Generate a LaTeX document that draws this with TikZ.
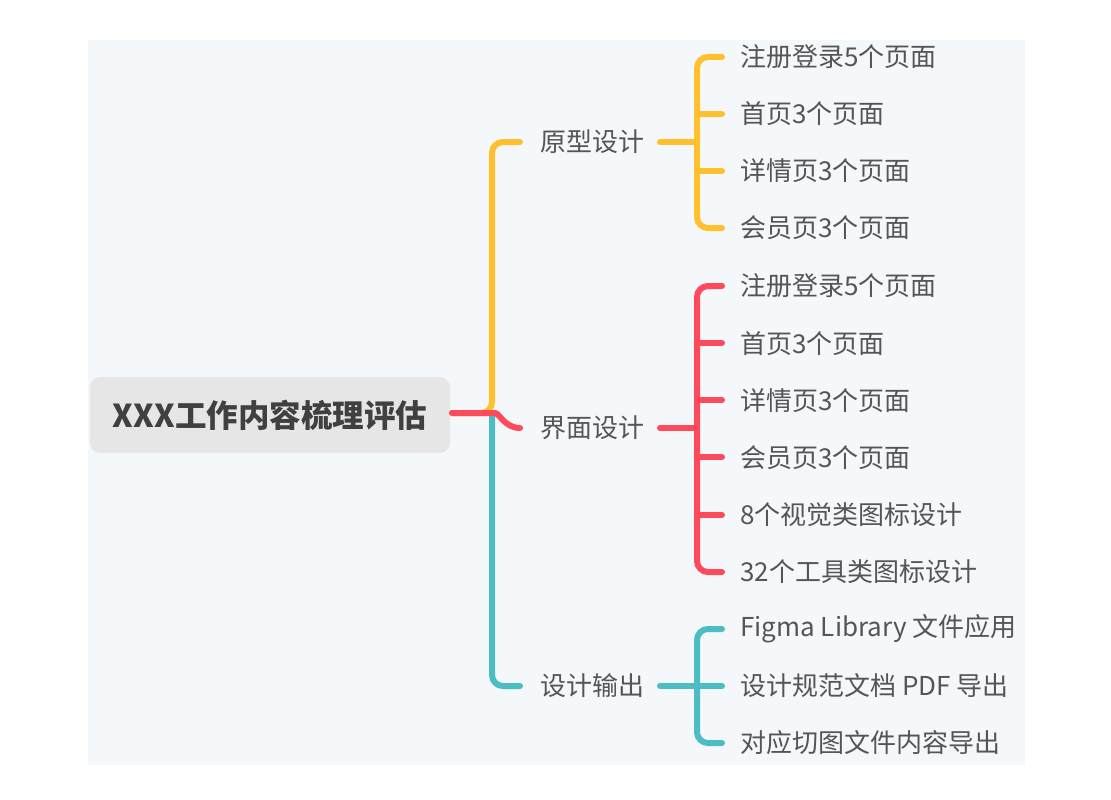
\documentclass[tikz,border=0pt]{standalone}
\usepackage{fontspec}
\newfontfamily\cjk{Noto Sans CJK SC}
\definecolor{bg}{HTML}{F5F8FB}
\definecolor{yel}{HTML}{FFC02E}
\definecolor{red}{HTML}{FF4A5C}
\definecolor{teal}{HTML}{4CBDC2}
\definecolor{txt}{HTML}{555555}
\definecolor{rootbg}{HTML}{E6E6E6}
\tikzset{
 br/.style={line width=6pt, line cap=round, rounded corners=11pt},
 lbl/.style={font=\cjk\fontsize{26pt}{30pt}\selectfont, text=txt, anchor=west, inner sep=0pt},
}
\begin{document}
\begin{tikzpicture}[x=1pt,y=-1pt]
\useasboundingbox (0,0) rectangle (1111,800);
\fill[white] (0,0) rectangle (1111,800);
\fill[bg] (88,40) rectangle (1025,765);
\node[fill=rootbg, rounded corners=10pt, minimum width=360pt, minimum height=76pt, font=\cjk\bfseries\fontsize{31.5pt}{34pt}\selectfont, text=black!75] (root) at (270,415) {XXX工作内容梳理评估};
% level 2
\node[lbl] (a) at (540,142) {原型设计};
\node[lbl] (b) at (540,428) {界面设计};
\node[lbl] (c) at (540,686) {设计输出};
\coordinate (r) at (452,413);
\draw[br, yel] (r) -- (492,413) -- (492,142) -- (520,142);
\draw[br, teal] (492,413) -- (492,686) -- (520,686);
\draw[br, red] (r) -- (484,413) to[out=0,in=180] (520,428);
% leaves
\foreach \t [count=\i] in {注册登录5个页面,首页3个页面,详情页3个页面,会员页3个页面}
  \node[lbl] (y\i) at (740,{57+57*(\i-1)}) {\t};
\foreach \t [count=\i] in {注册登录5个页面,首页3个页面,详情页3个页面,会员页3个页面,8个视觉类图标设计,32个工具类图标设计}
  \node[lbl] (r\i) at (740,{286+57.2*(\i-1)}) {\t};
\foreach \t [count=\i] in {Figma Library 文件应用,设计规范文档 PDF 导出,对应切图文件内容导出}
  \node[lbl] (t\i) at (740,{629+57*(\i-1)}) {\t};
% brackets
\draw[br, yel] (722,57) -- (697,57) -- (697,228) -- (722,228);
\draw[br, yel] (697,114) -- (722,114) (697,171) -- (722,171);
\draw[br, yel] (660,142) -- (697,142);
\draw[br, red] (722,286) -- (697,286) -- (697,572) -- (722,572);
\foreach \y in {343,400,457,515} \draw[br, red] (697,\y) -- (722,\y);
\draw[br, red] (660,428) -- (697,428);
\draw[br, teal] (722,629) -- (697,629) -- (697,743) -- (722,743);
\draw[br, teal] (660,686) -- (722,686);
\end{tikzpicture}
\end{document}
